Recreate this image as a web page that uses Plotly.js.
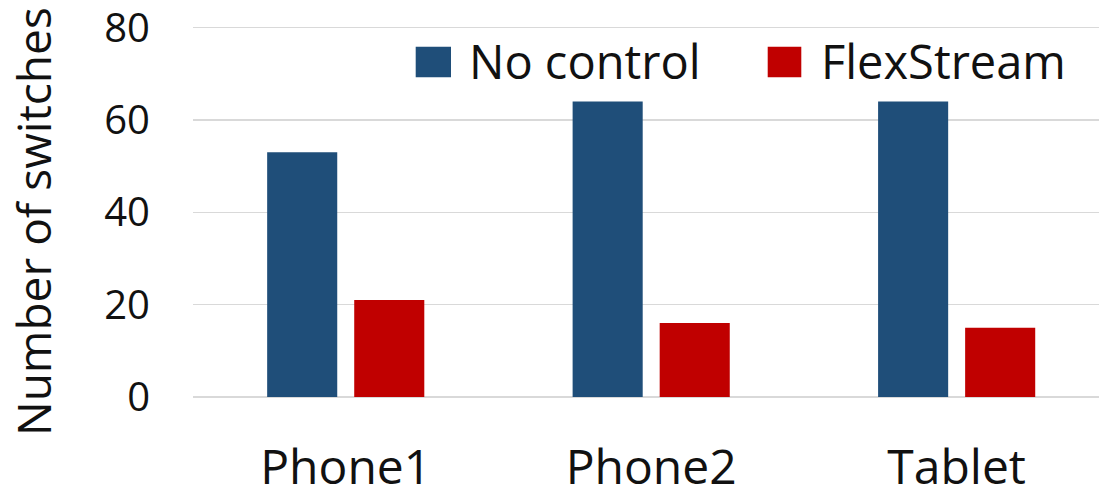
<!DOCTYPE html>
<html>
<head>
<meta charset="utf-8">
<script src="https://cdn.plot.ly/plotly-3.0.1.min.js"></script>
<style>
html,body{margin:0;padding:0;background:#fff;}
#chart{width:1099px;height:494px;}
</style>
</head>
<body>
<div id="chart"></div>
<script>
const categories = ["Phone1", "Phone2", "Tablet"];
const noControl = [53, 64, 64];
const flexStream = [21, 16, 15];
const seriesNames = ["No control", "FlexStream"];
const yTicks = [0, 20, 40, 60, 80];
const yTitle = "Number of switches";

const blue = "#1F4E79";
const red = "#C00000";
const textColor = "#111111";
const FONT = "Open Sans, sans-serif";

const traces = [
  {type: "bar", name: seriesNames[0], x: categories, y: noControl,
   marker: {color: blue, line: {width: 0}}, showlegend: false, hoverinfo: "none"},
  {type: "bar", name: seriesNames[1], x: categories, y: flexStream,
   marker: {color: red, line: {width: 0}}, showlegend: false, hoverinfo: "none"}
];

// plot area: x 193..1099, y 23..397 (range top 81 so that the 80 gridline is kept)
const L = 193, R = 1099, T = 23, B = 397;
const px = p => (p - L) / (R - L);
const py = p => (B - p) / (B - T);

const layout = {
  width: 1099, height: 494,
  margin: {l: L, r: 1099 - R, t: T, b: 494 - B, pad: 0},
  paper_bgcolor: "#ffffff", plot_bgcolor: "#ffffff",
  barmode: "group", bargap: 0.43, bargroupgap: 0.195,
  font: {family: FONT, color: textColor},
  xaxis: {
    type: "category", range: [-0.5, 2.466], fixedrange: true,
    showgrid: false, showline: false, zeroline: false, ticks: "",
    tickfont: {size: 48, color: textColor, family: FONT},
    ticklabelstandoff: 38, ticklabeloverflow: "allow"
  },
  yaxis: {
    range: [0, 81], tickvals: yTicks, ticktext: yTicks.map(String),
    showgrid: true, gridcolor: "#d9d9d9", gridwidth: 1.5,
    zeroline: true, zerolinecolor: "#d9d9d9", zerolinewidth: 1.5,
    showline: false, ticks: "",
    tickfont: {size: 40, color: textColor, family: FONT},
    ticklabelstandoff: 42, ticklabeloverflow: "allow",
    automargin: false
  },
  shapes: [
    {type: "rect", xref: "paper", yref: "paper", x0: px(415.7), x1: px(451), y0: py(77.3), y1: py(46.7),
     fillcolor: blue, line: {width: 0}},
    {type: "rect", xref: "paper", yref: "paper", x0: px(767.7), x1: px(801.3), y0: py(77.3), y1: py(46.7),
     fillcolor: red, line: {width: 0}}
  ],
  annotations: [
    {xref: "paper", yref: "paper", x: px(467), y: py(61), xanchor: "left", yanchor: "middle",
     text: seriesNames[0], showarrow: false, font: {size: 47, color: textColor, family: FONT}},
    {xref: "paper", yref: "paper", x: px(819), y: py(61), xanchor: "left", yanchor: "middle",
     text: seriesNames[1], showarrow: false, font: {size: 47, color: textColor, family: FONT}},
    {xref: "paper", yref: "paper", x: px(33), y: py(222), xanchor: "center", yanchor: "middle",
     textangle: -90, text: yTitle, showarrow: false, font: {size: 46, color: textColor, family: FONT}}
  ]
};

Plotly.newPlot("chart", traces, layout, {displayModeBar: false, staticPlot: true});
</script>
</body>
</html>
